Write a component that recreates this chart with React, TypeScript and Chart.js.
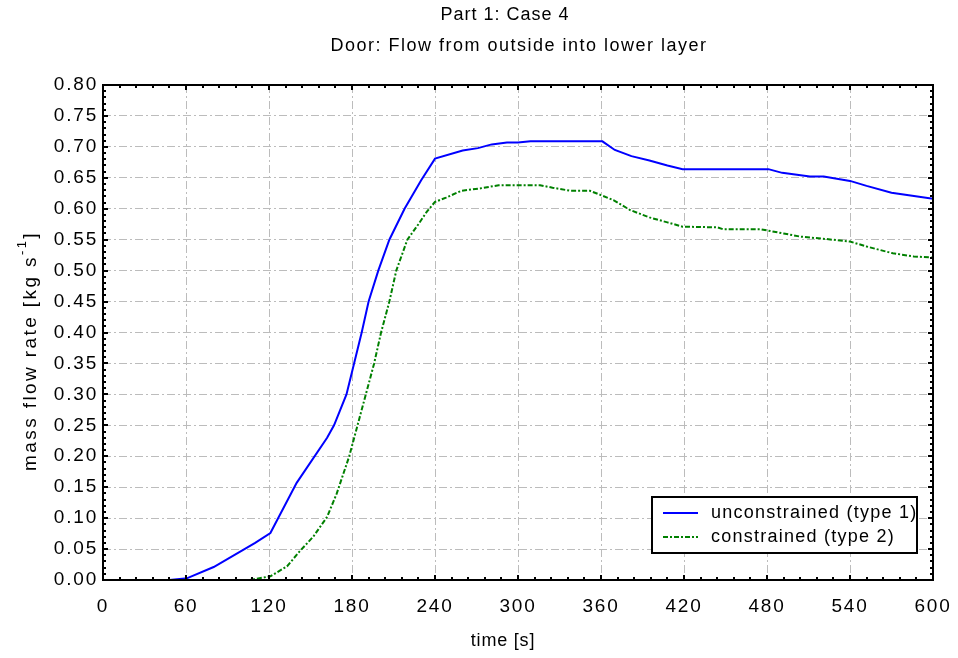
import React, { useEffect, useRef } from "react";
import { Chart, registerables } from "chart.js";
Chart.register(...registerables);

const TITLE_LINES = ["Part 1: Case 4", "Door: Flow from outside into lower layer"];
const X_LABEL = "time [s]";
const Y_LABEL = "mass flow rate [kg s";
const Y_LABEL_SUP = "-1";
const Y_LABEL_END = "]";
const SERIES_NAMES = ["unconstrained (type 1)", "constrained (type 2)"];

const X_MIN = 0;
const X_MAX = 600;
const X_STEP = 60;
const Y_MIN = 0;
const Y_MAX = 0.8;
const Y_STEP = 0.05;

const t1 = [0, 48, 61, 80, 110, 121, 140, 162, 167, 171, 176, 181.5, 187, 192, 199, 207, 218, 230, 240, 260, 271, 281, 292, 300, 309, 361, 370, 382, 395, 408, 419, 481, 491, 511, 521, 540, 552, 570, 585, 600];
const v1 = [0, 0, 0.003, 0.021, 0.06, 0.076, 0.157, 0.23, 0.25, 0.272, 0.3, 0.35, 0.4, 0.45, 0.5, 0.55, 0.6, 0.646, 0.681, 0.694, 0.698, 0.704, 0.707, 0.707, 0.709, 0.709, 0.695, 0.685, 0.678, 0.67, 0.664, 0.664, 0.658, 0.652, 0.652, 0.645, 0.637, 0.626, 0.621, 0.616];

const t2 = [0, 106, 121, 133, 142, 152, 162, 169, 175, 178, 184, 190, 196, 201, 207, 212, 220, 228, 234, 240, 248, 259, 273, 286, 316, 325, 338, 352, 360, 369, 381, 395, 408, 419, 444, 448, 475, 480, 492, 504, 523, 540, 552, 571, 586, 600];
const v2 = [0, 0, 0.006, 0.022, 0.046, 0.07, 0.102, 0.14, 0.18, 0.2, 0.25, 0.3, 0.35, 0.4, 0.45, 0.5, 0.55, 0.575, 0.595, 0.611, 0.618, 0.629, 0.633, 0.638, 0.638, 0.634, 0.629, 0.629, 0.622, 0.614, 0.598, 0.586, 0.578, 0.571, 0.57, 0.567, 0.567, 0.565, 0.56, 0.555, 0.551, 0.547, 0.539, 0.528, 0.523, 0.521];

const FONT = "'Liberation Sans', Arial, sans-serif";
const BLUE = "#0000ff";
const GREEN = "#008000";
const GREEN_DASH = [5, 2, 2, 2];

const decor = {
  id: "decor",
  beforeDraw(chart: any) {
    (chart.ctx as any).letterSpacing = "1.8px";
  },
  afterDraw(chart: any) {
    const ctx: CanvasRenderingContext2D = chart.ctx;
    const a = chart.chartArea;
    const xs = chart.scales.x;
    const ys = chart.scales.y;
    ctx.save();
    ctx.strokeStyle = "#000";
    ctx.lineWidth = 2;
    ctx.setLineDash([]);
    const seg = (x1: number, y1: number, x2: number, y2: number) => {
      ctx.beginPath();
      ctx.moveTo(x1, y1);
      ctx.lineTo(x2, y2);
      ctx.stroke();
    };
    for (let t = X_MIN; t <= X_MAX + 0.001; t += 12) {
      const px = Math.round(xs.getPixelForValue(t));
      const len = Math.abs(t % 60) < 0.001 ? 5 : 3;
      seg(px, a.bottom, px, a.bottom - len);
      seg(px, a.top, px, a.top + len);
    }
    for (let i = 0; i <= 80; i++) {
      const py = Math.round(ys.getPixelForValue(i / 100));
      const len = i % 5 === 0 ? 5 : 3;
      seg(a.left, py, a.left + len, py);
      seg(a.right, py, a.right - len, py);
    }
    ctx.strokeRect(a.left, a.top, a.right - a.left, a.bottom - a.top);

    const sp = (v: number) => {
      (ctx as any).letterSpacing = v + "px";
    };
    ctx.fillStyle = "#000";
    ctx.font = `18px ${FONT}`;
    ctx.textAlign = "center";
    ctx.textBaseline = "middle";
    sp(1);
    ctx.fillText(TITLE_LINES[0], 505, 15);
    sp(1.5);
    ctx.fillText(TITLE_LINES[1], 519, 46);
    sp(0.8);
    ctx.fillText(X_LABEL, 503, 641);

    // y axis title
    ctx.save();
    ctx.translate(29, 351);
    ctx.rotate(-Math.PI / 2);
    sp(2.4);
    ctx.font = `19px ${FONT}`;
    const w1 = ctx.measureText(Y_LABEL).width;
    ctx.font = `13px ${FONT}`;
    const w2 = ctx.measureText(Y_LABEL_SUP).width;
    ctx.font = `19px ${FONT}`;
    const w3 = ctx.measureText(Y_LABEL_END).width;
    const total = w1 + w2 + w3;
    ctx.textAlign = "left";
    ctx.textBaseline = "alphabetic";
    const x0 = -total / 2;
    ctx.fillText(Y_LABEL, x0, 7);
    ctx.font = `13px ${FONT}`;
    ctx.fillText(Y_LABEL_SUP, x0 + w1, -3);
    ctx.font = `19px ${FONT}`;
    ctx.fillText(Y_LABEL_END, x0 + w1 + w2, 7);
    ctx.restore();

    // legend
    const lx = 652, ly = 497, lw = 265, lh = 56;
    ctx.fillStyle = "#fff";
    ctx.fillRect(lx, ly, lw, lh);
    ctx.strokeStyle = "#000";
    ctx.lineWidth = 2;
    ctx.strokeRect(lx, ly, lw, lh);
    const rows = [
      { y: 513, color: BLUE, dash: [] as number[] },
      { y: 537, color: GREEN, dash: GREEN_DASH },
    ];
    rows.forEach((r, i) => {
      ctx.strokeStyle = r.color;
      ctx.lineWidth = 2;
      ctx.setLineDash(r.dash);
      seg(663, r.y, 698, r.y);
      ctx.setLineDash([]);
      ctx.fillStyle = "#000";
      ctx.font = `18px ${FONT}`;
      sp(1.25);
      ctx.textAlign = "left";
      ctx.textBaseline = "middle";
      ctx.fillText(SERIES_NAMES[i], 711, r.y);
    });
    ctx.restore();
  },
};

export default function App() {
  const ref = useRef<HTMLCanvasElement | null>(null);
  useEffect(() => {
    const canvas = ref.current;
    if (!canvas) return;
    const chart = new Chart(canvas, {
      type: "line",
      data: {
        datasets: [
          {
            label: SERIES_NAMES[0],
            data: t1.map((t, i) => ({ x: t, y: v1[i] })),
            borderColor: BLUE,
            borderWidth: 2,
            pointRadius: 0,
            tension: 0,
            fill: false,
          },
          {
            label: SERIES_NAMES[1],
            data: t2.map((t, i) => ({ x: t, y: v2[i] })),
            borderColor: GREEN,
            borderWidth: 2,
            borderDash: GREEN_DASH,
            pointRadius: 0,
            tension: 0,
            fill: false,
          },
        ],
      },
      options: {
        animation: false,
        responsive: false,
        devicePixelRatio: 1,
        layout: { padding: { top: 85, right: 25, left: 0, bottom: 0 } },
        plugins: {
          legend: { display: false },
          title: { display: false },
          tooltip: { enabled: false },
        },
        scales: {
          x: {
            type: "linear",
            min: X_MIN,
            max: X_MAX,
            afterFit: (s: any) => {
              s.height = 78;
              s.paddingLeft = 0;
              s.paddingRight = 0;
            },
            afterBuildTicks: (s: any) => {
              const arr = [];
              for (let v = X_MIN; v <= X_MAX; v += X_STEP) arr.push({ value: v });
              s.ticks = arr;
            },
            ticks: {
              color: "#000",
              font: { family: FONT, size: 19 },
              padding: 15,
              maxRotation: 0,
              autoSkip: false,
              callback: (v: any) => String(v),
            },
            grid: { color: "#bcbcbc", lineWidth: 1, drawTicks: false },
            border: { display: false, dash: [8, 3, 2, 3] },
          },
          y: {
            type: "linear",
            min: Y_MIN,
            max: Y_MAX,
            afterFit: (s: any) => {
              s.width = 103;
              s.paddingTop = 0;
              s.paddingBottom = 0;
            },
            afterBuildTicks: (s: any) => {
              const arr = [];
              for (let i = 0; i <= Math.round((Y_MAX - Y_MIN) / Y_STEP); i++)
                arr.push({ value: +(Y_MIN + i * Y_STEP).toFixed(2) });
              s.ticks = arr;
            },
            ticks: {
              color: "#000",
              font: { family: FONT, size: 19 },
              padding: 5,
              autoSkip: false,
              callback: (v: any) => Number(v).toFixed(2),
            },
            grid: { color: "#bcbcbc", lineWidth: 1, drawTicks: false },
            border: { display: false, dash: [8, 3, 2, 3] },
          },
        },
      },
      plugins: [decor],
    });
    return () => chart.destroy();
  }, []);
  return (
    <div style={{ position: "fixed", left: 0, top: 0, width: 958, height: 658, background: "#fff" }}>
      <canvas ref={ref} width={958} height={658} style={{ width: 958, height: 658 }} />
    </div>
  );
}
